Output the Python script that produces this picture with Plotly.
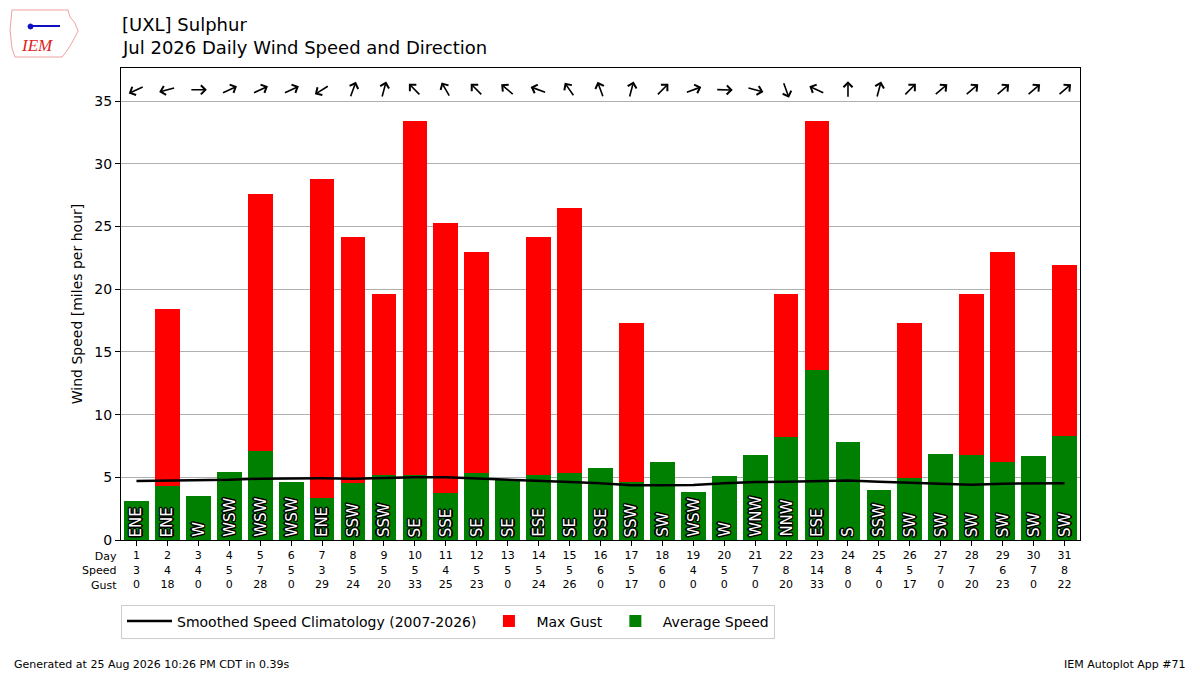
import math
import plotly.graph_objects as go

# daily values
DAYS = list(range(1, 32))
AVG_SPEED = [3.13, 4.33, 3.51, 5.42, 7.10, 4.65, 3.38, 4.57, 5.18, 5.18, 3.77,
             5.34, 4.84, 5.16, 5.32, 5.74, 4.65, 6.22, 3.85, 5.10, 6.80,
             8.19, 13.56, 7.84, 3.99, 4.95, 6.86, 6.78, 6.25, 6.70, 8.32]
MAX_GUST = [0, 18.4, 0, 0, 27.6, 0, 28.8, 24.2, 19.6, 33.4, 25.3,
            23.0, 0, 24.2, 26.5, 0, 17.3, 0, 0, 0, 0,
            19.6, 33.4, 0, 0, 17.3, 0, 19.6, 23.0, 0, 21.9]
DIR_TEXT = ['ENE', 'ENE', 'W', 'WSW', 'WSW', 'WSW', 'ENE', 'SSW', 'SSW', 'SE', 'SSE',
            'SE', 'SE', 'ESE', 'SE', 'SSE', 'SSW', 'SW', 'WSW', 'W', 'WNW',
            'NNW', 'ESE', 'S', 'SSW', 'SW', 'SW', 'SW', 'SW', 'SW', 'SW']
DIR_DEG = [65, 75, 270, 245, 245, 245, 58, 200, 195, 135, 150,
           135, 130, 110, 145, 160, 195, 225, 250, 272, 285,
           340, 115, 180, 195, 225, 230, 230, 230, 230, 230]
CLIMO = [4.70, 4.73, 4.78, 4.80, 4.89, 4.92, 4.92, 4.89, 4.95, 5.0, 5.0,
         4.89, 4.80, 4.73, 4.62, 4.52, 4.36, 4.36, 4.38, 4.52, 4.62,
         4.65, 4.70, 4.75, 4.65, 4.55, 4.49, 4.41, 4.49, 4.52, 4.52]

FONT = 'DejaVu Sans'
L, T, R, B = 121, 68, 120, 135
W, H = 1200, 675
PW, PH = W - L - R, H - T - B


def px(xp, yp):
    """pixel position -> paper coords"""
    return (xp - L) / PW, (H - B - yp) / PH


ticktext = ['%d<br>%d<br>%d' % (d, round(s), round(g))
            for d, s, g in zip(DAYS, AVG_SPEED, MAX_GUST)]

fig = go.Figure()
fig.add_trace(go.Bar(x=DAYS, y=MAX_GUST, width=0.8, marker_color='#ff0000',
                     marker_line_width=0, name='Max Gust', legendrank=2,
                     hoverinfo='skip'))
fig.add_trace(go.Bar(x=DAYS, y=AVG_SPEED, width=0.8, marker_color='#008000',
                     marker_line_width=0, name='Average Speed', legendrank=3,
                     hoverinfo='skip'))
fig.add_trace(go.Scatter(x=DAYS, y=CLIMO, mode='lines', line=dict(color='black', width=2.5),
                         name='Smoothed Speed Climatology (2007-2026)', legendrank=1))

annotations = []
outline = ('1.5px 0 0 black, -1.5px 0 0 black, 0 1.5px 0 black, 0 -1.5px 0 black, '
           '1px 1px 0 black, -1px -1px 0 black, 1px -1px 0 black, -1px 1px 0 black')
for d, t in zip(DAYS, DIR_TEXT):
    annotations.append(dict(x=d, y=0, xref='x', yref='y', text=t, showarrow=False,
                            textangle=-90, yanchor='bottom', yshift=1,
                            font=dict(family=FONT, size=15, color='white', shadow=outline)))

# wind arrows point the way the wind blows
alen = 17
for d, deg in zip(DAYS, DIR_DEG):
    b = math.radians(deg + 180)
    annotations.append(dict(x=d, y=35.9, xref='x', yref='y', text='', showarrow=True,
                            arrowhead=4, arrowsize=1.1, arrowwidth=1.6, arrowcolor='black',
                            axref='pixel', ayref='pixel',
                            ax=-alen * math.sin(b), ay=alen * math.cos(b),
                            xshift=alen / 2 * math.sin(b), yshift=alen / 2 * math.cos(b),
                            standoff=0))

annotations += [
    dict(x=-0.002, y=-0.018, xref='paper', yref='paper', text='Day<br>Speed<br>Gust',
         showarrow=False, xanchor='right', yanchor='top', align='right',
         font=dict(family=FONT, size=11, color='black')),
    dict(x=px(120, 0)[0], y=px(0, 25)[1], xref='paper', yref='paper', text='[UXL] Sulphur',
         showarrow=False, xanchor='left', yanchor='middle',
         font=dict(family=FONT, size=18, color='black')),
    dict(x=px(120, 0)[0], y=px(0, 48)[1], xref='paper', yref='paper',
         text='Jul 2026 Daily Wind Speed and Direction',
         showarrow=False, xanchor='left', yanchor='middle',
         font=dict(family=FONT, size=18, color='black')),
    dict(x=px(12, 0)[0], y=px(0, 664)[1], xref='paper', yref='paper',
         text='Generated at 25 Aug 2026 10:26 PM CDT in 0.39s',
         showarrow=False, xanchor='left', yanchor='middle',
         font=dict(family=FONT, size=11, color='black')),
    dict(x=px(1188, 0)[0], y=px(0, 664)[1], xref='paper', yref='paper',
         text='IEM Autoplot App #71',
         showarrow=False, xanchor='right', yanchor='middle',
         font=dict(family=FONT, size=11, color='black')),
    dict(x=px(37, 0)[0], y=px(0, 45)[1], xref='paper', yref='paper', text='<i>IEM</i>',
         showarrow=False, xanchor='center', yanchor='middle',
         font=dict(family='Liberation Serif', size=17, color='#dd2222')),
]

# rough logo outline
pts = [(12, 10), (68, 10), (70, 17), (75, 23), (78, 31), (74, 39), (70, 46),
       (66, 52), (62, 57), (15, 57), (12, 48), (10, 30)]
path = 'M ' + ' L '.join('%.4f %.4f' % px(a, c) for a, c in pts) + ' Z'
shapes = [dict(type='path', path=path, xref='paper', yref='paper',
               line=dict(color='#f0a0a0', width=1))]
sx0, sy0 = px(30, 26)
sx1, _ = px(60, 26)
shapes.append(dict(type='line', x0=sx0, y0=sy0, x1=sx1, y1=sy0, xref='paper', yref='paper',
                   line=dict(color='#1010c0', width=2)))
cx0, cy0 = px(28, 24)
cx1, cy1 = px(33, 29)
shapes.append(dict(type='circle', x0=cx0, y0=cy0, x1=cx1, y1=cy1, xref='paper', yref='paper',
                   fillcolor='#1010c0', line=dict(color='#1010c0', width=1)))

fig.update_layout(
    width=W, height=H,
    margin=dict(l=L, r=R, t=T, b=B),
    paper_bgcolor='white', plot_bgcolor='white',
    barmode='overlay', bargap=0,
    font=dict(family=FONT, size=12, color='black'),
    showlegend=True,
    legend=dict(orientation='h', x=0, y=px(0, 621.5)[1], xanchor='left', yanchor='middle',
                bordercolor='#cccccc', borderwidth=1, font=dict(size=14, family=FONT),
                traceorder='normal', itemwidth=45),
    annotations=annotations,
    shapes=shapes,
)
fig.update_xaxes(range=[0.5, 31.5], tickvals=DAYS, ticktext=ticktext, ticks='outside',
                 ticklen=5, tickcolor='black', showgrid=False, zeroline=False,
                 showline=True, linecolor='black', mirror=True,
                 tickfont=dict(size=11, family=FONT))
fig.update_yaxes(range=[0, 37.64], dtick=5, ticks='outside', ticklen=5, tickcolor='black',
                 showgrid=True, gridcolor='#b0b0b0', zeroline=False,
                 showline=True, linecolor='black', mirror=True,
                 tickfont=dict(size=14, family=FONT),
                 title=dict(text='Wind Speed [miles per hour]', font=dict(size=14, family=FONT),
                            standoff=8))

# page body has a default 8px margin, drop it so the figure fills the window
fig.write_html('out.html', config={'displayModeBar': False},
               post_script="document.body.style.margin='0';")
